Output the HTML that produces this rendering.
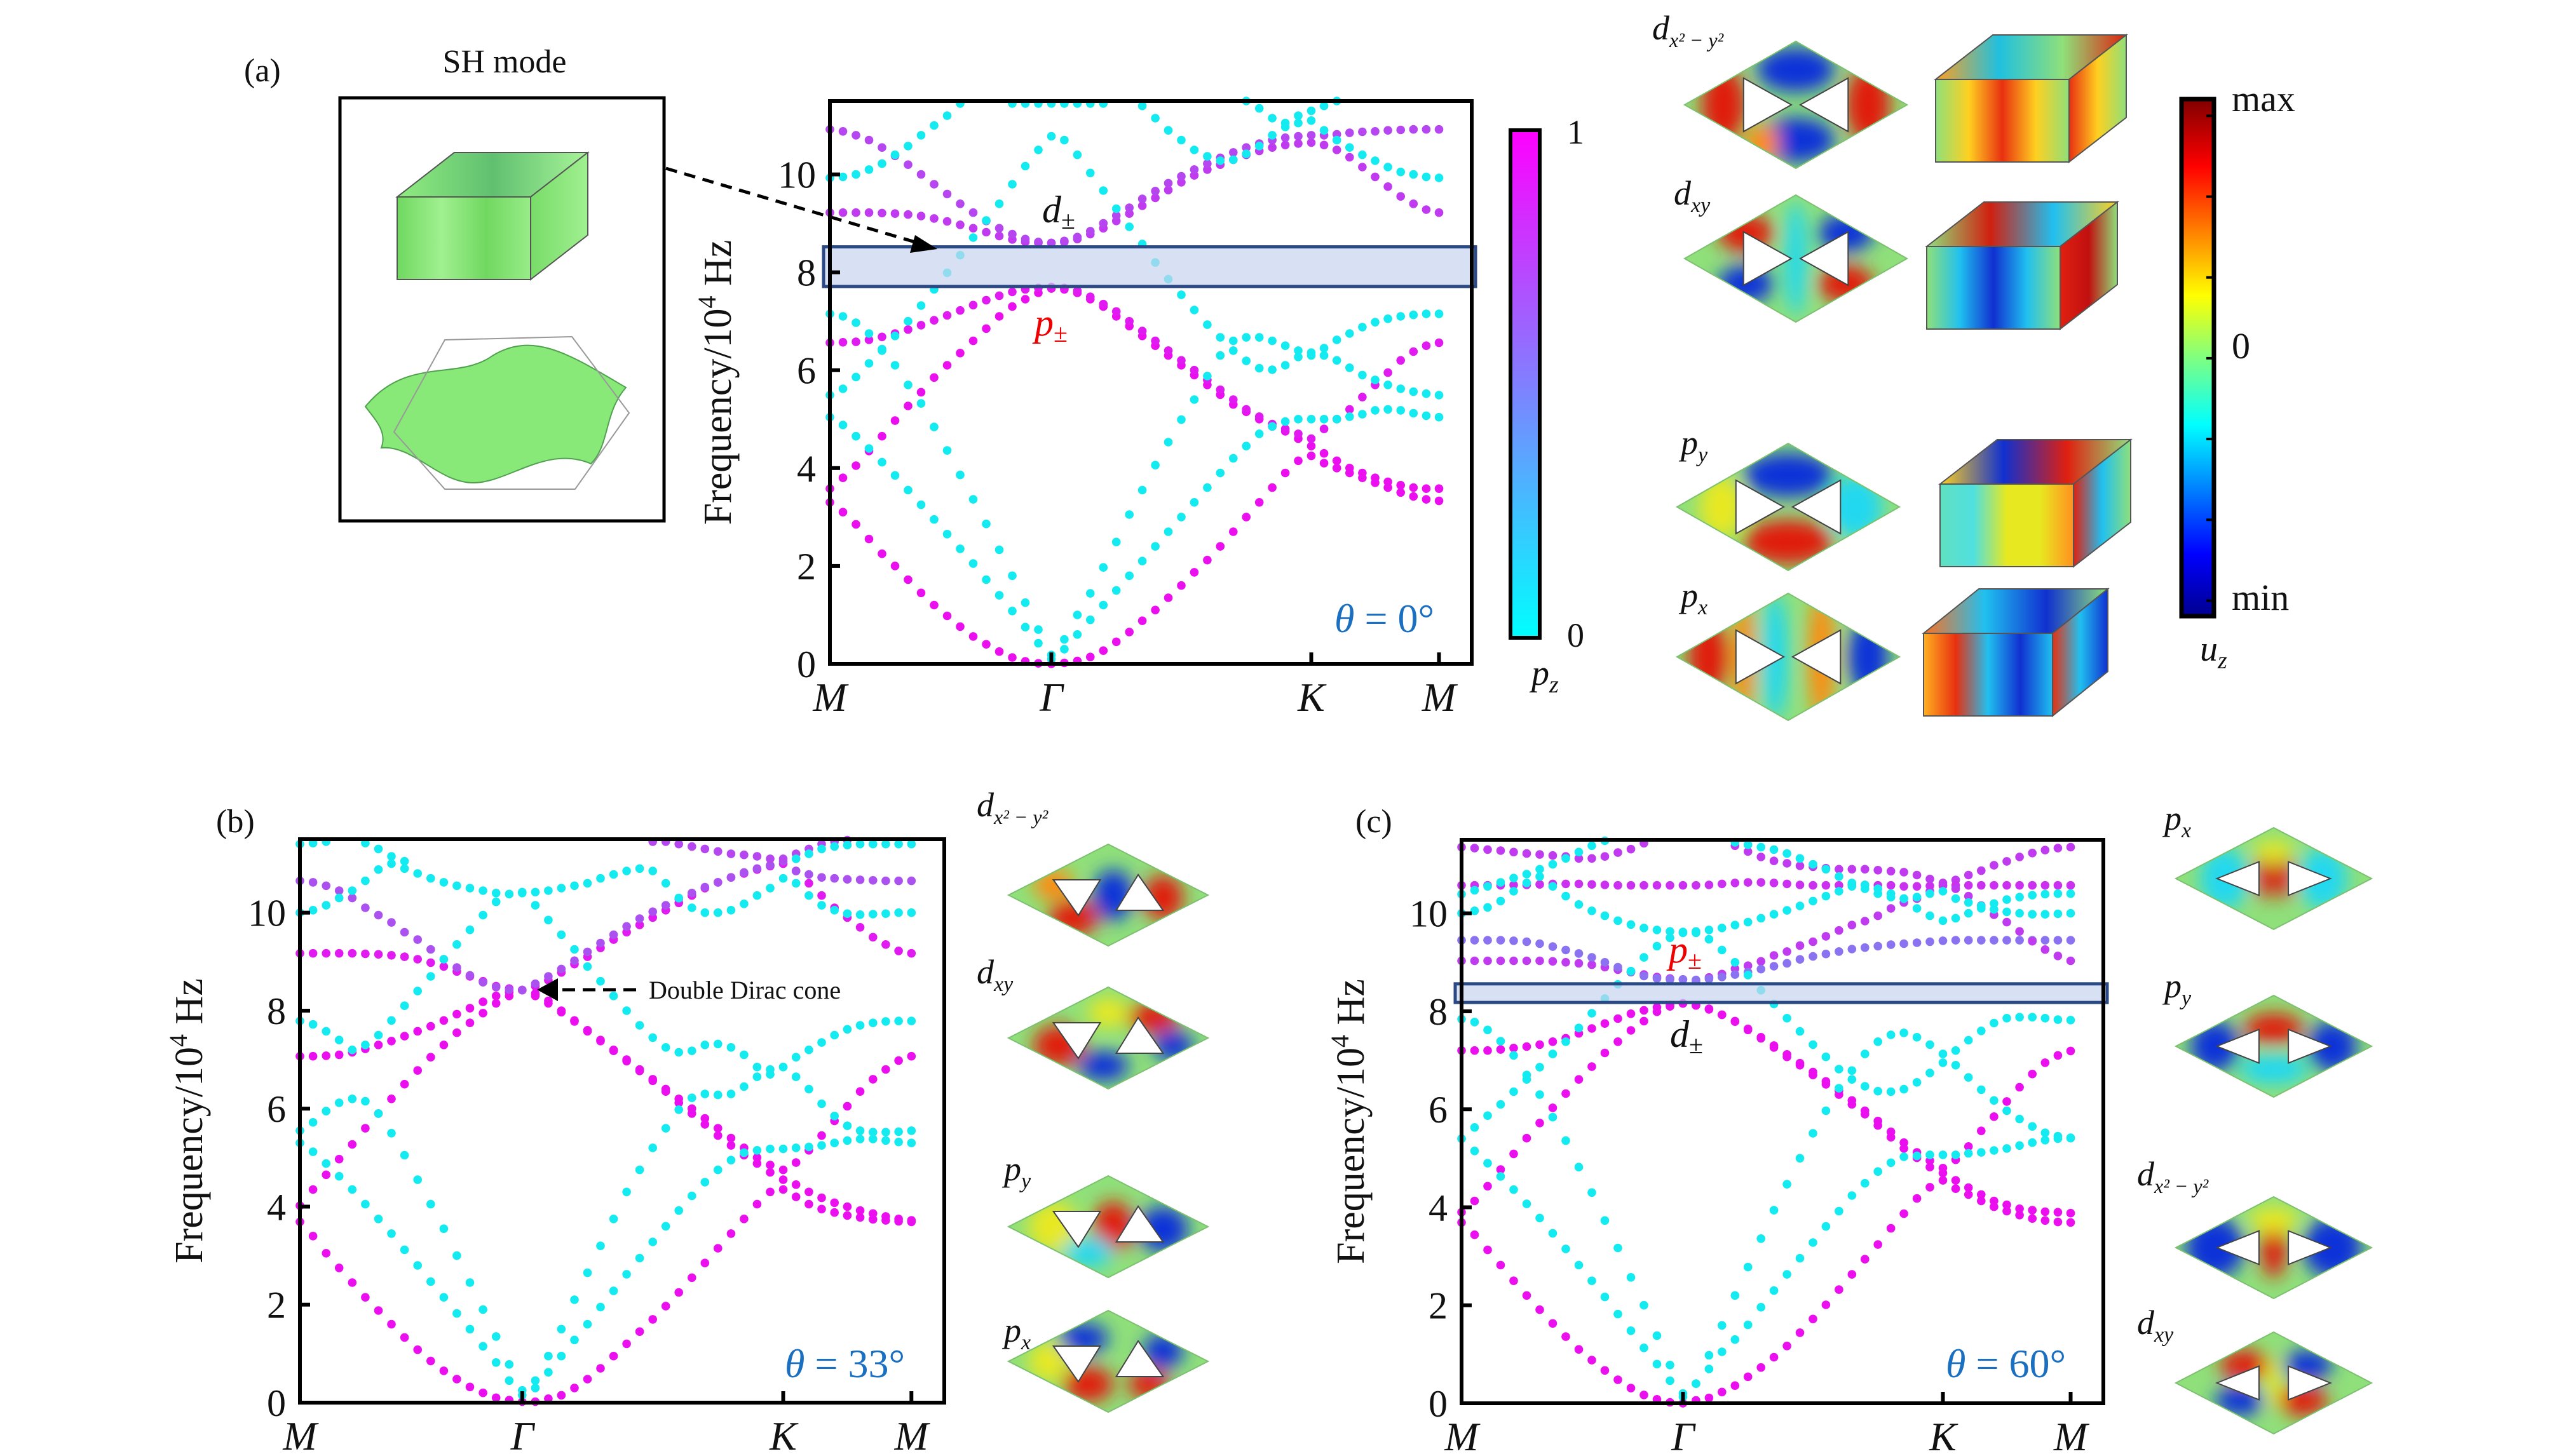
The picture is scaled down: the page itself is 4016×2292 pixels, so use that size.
<!DOCTYPE html>
<html><head><meta charset="utf-8"><style>
html,body{margin:0;padding:0;background:#fff;}
svg{display:block;}
text{font-family:"Liberation Serif",serif;fill:#111;}
.it{font-style:italic;}
</style></head><body>
<svg id="fig" width="4016" height="2292" viewBox="0 0 4016 2292" xmlns="http://www.w3.org/2000/svg">
<defs>
<linearGradient id="pzGrad" x1="0" y1="1" x2="0" y2="0"><stop offset="0" stop-color="#00ffff"/><stop offset="0.5" stop-color="#8080ff"/><stop offset="1" stop-color="#ff00ff"/></linearGradient>
<linearGradient id="jetGrad" x1="0" y1="1" x2="0" y2="0"><stop offset="0" stop-color="#00008f"/><stop offset="0.12" stop-color="#0000ff"/><stop offset="0.37" stop-color="#00ffff"/><stop offset="0.5" stop-color="#80ff80"/><stop offset="0.62" stop-color="#ffff00"/><stop offset="0.87" stop-color="#ff0000"/><stop offset="1" stop-color="#800000"/></linearGradient>
<filter id="blur" x="-50%" y="-50%" width="200%" height="200%"><feGaussianBlur stdDeviation="14"/></filter>
</defs>
<g id="layer"></g>
<text x="384" y="128" font-size="52">(a)</text>
<text x="340" y="1310" font-size="52">(b)</text>
<text x="2133" y="1310" font-size="52">(c)</text>
<text x="794" y="114" font-size="52" text-anchor="middle">SH mode</text>
<text x="2466" y="226" font-size="54">1</text>
<text x="2466" y="1018" font-size="54">0</text>
<text x="2410" y="1078" font-size="56" class="it">p<tspan font-size="38" dy="12">z</tspan></text>
<text x="3512" y="175" font-size="58">max</text>
<text x="3512" y="564" font-size="58">0</text>
<text x="3512" y="960" font-size="58">min</text>
<text x="3462" y="1040" font-size="56" class="it">u<tspan font-size="38" dy="12">z</tspan></text>
<text x="1021" y="1572" font-size="40">Double Dirac cone</text>
<text x="1640" y="350" font-size="60" class="it">d<tspan font-size="40" dy="10" font-style="normal">±</tspan></text>
<text x="1628" y="528" font-size="60" class="it" style="fill:#e00">p<tspan font-size="40" dy="10" font-style="normal" style="fill:#e00">±</tspan></text>
<text x="2626" y="1515" font-size="60" class="it" style="fill:#e00">p<tspan font-size="40" dy="10" font-style="normal" style="fill:#e00">±</tspan></text>
<text x="2628" y="1648" font-size="60" class="it">d<tspan font-size="40" dy="10" font-style="normal">±</tspan></text>
<text x="2100" y="995" font-size="64" class="it" style="fill:#1a6fc0">θ<tspan font-style="normal" style="fill:#1a6fc0"> = 0°</tspan></text>
<text x="1235" y="2168" font-size="64" class="it" style="fill:#1a6fc0">θ<tspan font-style="normal" style="fill:#1a6fc0"> = 33°</tspan></text>
<text x="3062" y="2168" font-size="64" class="it" style="fill:#1a6fc0">θ<tspan font-style="normal" style="fill:#1a6fc0"> = 60°</tspan></text>
<text x="2600" y="62" font-size="54" class="it">d<tspan font-size="32" dy="12">x² − y²</tspan></text>
<text x="2634" y="322" font-size="54" class="it">d<tspan font-size="34" dy="12">xy</tspan></text>
<text x="2645" y="715" font-size="54" class="it">p<tspan font-size="34" dy="12">y</tspan></text>
<text x="2645" y="955" font-size="54" class="it">p<tspan font-size="34" dy="12">x</tspan></text>
<text x="1537" y="1285" font-size="54" class="it">d<tspan font-size="32" dy="12">x² − y²</tspan></text>
<text x="1537" y="1548" font-size="54" class="it">d<tspan font-size="34" dy="12">xy</tspan></text>
<text x="1580" y="1858" font-size="54" class="it">p<tspan font-size="34" dy="12">y</tspan></text>
<text x="1580" y="2112" font-size="54" class="it">p<tspan font-size="34" dy="12">x</tspan></text>
<text x="3406" y="1306" font-size="54" class="it">p<tspan font-size="34" dy="12">x</tspan></text>
<text x="3406" y="1570" font-size="54" class="it">p<tspan font-size="34" dy="12">y</tspan></text>
<text x="3363" y="1866" font-size="54" class="it">d<tspan font-size="32" dy="12">x² − y²</tspan></text>
<text x="3363" y="2100" font-size="54" class="it">d<tspan font-size="34" dy="12">xy</tspan></text>
</svg>
<script>
const kLabels = ['M', 'Γ', 'K', 'M'];
const yTicks = [0, 2, 4, 6, 8, 10];
const yMax = 11.5;

const a_m1 = [].concat([3.3,3.1,2.85,2.55,2.25,2.0,1.72,1.45,1.2,0.98,0.76,0.56,0.4,0.25,0.13,0.05,0.01,0.0],[0.02,0.06,0.14,0.27,0.45,0.65,0.88,1.1,1.35,1.6,1.87,2.12,2.4,2.7,3.0,3.3,3.6,3.9,4.15,4.25],[4.1,4.0,3.9,3.8,3.7,3.6,3.5,3.42,3.36,3.33]);
const a_m2 = [].concat([3.58,3.8,4.05,4.35,4.65,4.97,5.27,5.55,5.85,6.1,6.35,6.6,6.85,7.1,7.3,7.45,7.58,7.67],[7.65,7.58,7.45,7.3,7.1,6.9,6.7,6.5,6.3,6.1,5.9,5.7,5.5,5.3,5.15,5.0,4.85,4.75,4.6,4.45],[4.3,4.15,4.0,3.9,3.8,3.72,3.65,3.6,3.58,3.58]);
const a_m3 = [].concat([6.56,6.57,6.58,6.62,6.68,6.75,6.83,6.92,7.02,7.12,7.22,7.33,7.43,7.52,7.6,7.65,7.68,7.7],[7.68,7.62,7.5,7.35,7.2,7.0,6.8,6.6,6.4,6.2,6.0,5.8,5.6,5.4,5.2,5.05,4.9,4.8,4.7,4.6],[4.8,5.0,5.2,5.45,5.7,5.95,6.2,6.38,6.5,6.56]);
const a_m4 = [].concat([9.22,9.22,9.22,9.22,9.21,9.2,9.18,9.15,9.1,9.04,8.97,8.9,8.82,8.74,8.67,8.62,8.6,8.6],[8.62,8.68,8.78,8.9,9.05,9.2,9.36,9.52,9.68,9.84,9.98,10.1,10.2,10.3,10.4,10.48,10.55,10.6,10.63,10.65],[10.6,10.5,10.35,10.15,9.95,9.75,9.55,9.4,9.28,9.22]);
const a_m5 = [].concat([10.92,10.88,10.8,10.7,10.55,10.38,10.2,10.0,9.8,9.6,9.4,9.22,9.05,8.9,8.78,8.68,8.62,8.6],[8.64,8.72,8.84,9.0,9.16,9.32,9.5,9.66,9.82,9.96,10.1,10.22,10.34,10.45,10.55,10.63,10.7,10.75,10.78,10.8],[10.8,10.82,10.85,10.87,10.88,10.9,10.91,10.92,10.92,10.92]);
const a_c1 = [].concat([5.04,4.88,4.65,4.4,4.12,3.85,3.55,3.25,2.95,2.65,2.35,2.05,1.72,1.4,1.08,0.75,0.42,0.1],[0.3,0.6,0.9,1.2,1.5,1.8,2.1,2.4,2.7,3.0,3.3,3.6,3.9,4.2,4.45,4.7,4.85,4.95,5.0,5.0],[5.0,5.0,5.05,5.1,5.18,5.2,5.18,5.12,5.07,5.04]);
const a_c2 = [].concat([5.49,5.62,5.86,6.14,6.4,6.7,7.0,7.32,7.65,7.99,8.35,8.71,9.06,9.4,9.8,10.17,10.5,10.78],[10.7,10.4,10.03,9.67,9.3,8.93,8.58,8.2,7.86,7.54,7.23,6.93,6.67,6.4,6.19,6.04,6.01,6.1,6.27,6.36],[6.3,6.2,6.05,5.9,5.8,5.7,5.62,5.56,5.52,5.49]);
const a_c3 = [].concat([7.15,7.1,6.97,6.75,6.43,6.1,5.7,5.32,4.84,4.36,3.86,3.36,2.86,2.33,1.8,1.25,0.7,0.18],[0.5,1.0,1.44,1.97,2.49,3.05,3.55,4.06,4.53,4.99,5.4,5.88,6.3,6.6,6.67,6.67,6.6,6.5,6.4,6.3],[6.45,6.62,6.75,6.88,6.98,7.05,7.1,7.13,7.15,7.15]);
const a_c4 = [].concat([9.93,9.95,10.0,10.1,10.22,10.4,10.58,10.8,11.0,11.2,11.45,null,null,null,11.45,11.45,11.45,11.45],[11.45,11.45,11.45,11.45,null,null,11.4,11.15,10.9,10.7,10.5,10.37,10.28,10.3,10.42,10.58,10.8,10.97,11.05,11.1],[10.9,10.7,10.55,10.4,10.28,10.15,10.05,10.0,9.95,9.93]);
const a_c5 = [].concat([null,null,null,null,null,null,null,null,null,null,null,null,null,null,null,null,null,null],[null,null,null,null,null,null,null,null,null,null,null,null,null,null,11.5,11.35,11.15,11.05,11.2,11.3],[11.4,11.5,null,null,null,null,null,null,null,null]);
const a_bands = [a_m1, a_m2, a_m3, a_m4, a_m5, a_c1, a_c2, a_c3, a_c4, a_c5];
const a_pz = [1, 1, 0.95, 0.8, 0.75, 0, 0, 0, 0, 0];

const b_m1 = [].concat([3.69,3.4,3.05,2.75,2.45,2.15,1.88,1.6,1.33,1.08,0.85,0.65,0.48,0.32,0.2,0.1,0.05,0.02],[0.02,0.08,0.15,0.3,0.48,0.7,0.95,1.2,1.45,1.7,1.97,2.25,2.55,2.85,3.15,3.45,3.75,4.05,4.3,4.35],[4.2,4.05,3.95,3.88,3.82,3.78,3.74,3.72,3.7,3.69]);
const b_m2 = [].concat([4.02,4.35,4.65,4.97,5.27,5.6,5.9,6.2,6.5,6.78,7.05,7.3,7.55,7.75,7.95,8.15,8.3,8.42],[8.3,8.15,7.97,7.78,7.58,7.38,7.18,6.97,6.77,6.57,6.35,6.12,5.9,5.68,5.45,5.25,5.05,4.88,4.7,4.55],[4.45,4.3,4.18,4.08,4.0,3.92,3.86,3.8,3.75,3.72]);
const b_m3 = [].concat([7.07,7.07,7.08,7.1,7.15,7.22,7.3,7.38,7.48,7.58,7.68,7.8,7.93,8.05,8.18,8.3,8.38,8.42],[8.35,8.2,8.0,7.8,7.6,7.4,7.2,7.0,6.8,6.6,6.4,6.2,6.0,5.8,5.6,5.4,5.2,5.0,4.85,4.75],[4.9,5.15,5.45,5.75,6.05,6.35,6.6,6.8,6.98,7.07]);
const b_m4 = [].concat([9.17,9.17,9.17,9.17,9.17,9.16,9.15,9.13,9.1,9.05,8.98,8.9,8.8,8.7,8.6,8.5,8.45,8.42],[8.5,8.62,8.78,8.95,9.1,9.28,9.45,9.6,9.75,9.9,10.05,10.2,10.35,10.5,10.62,10.72,10.8,10.88,10.95,11.0],[10.85,10.6,10.35,10.1,9.9,9.7,9.5,9.35,9.22,9.17]);
const b_m5 = [].concat([10.65,10.62,10.55,10.45,10.3,10.1,9.95,9.8,9.6,9.45,9.25,9.05,8.88,8.72,8.58,8.48,8.43,8.42],[8.55,8.7,8.85,9.02,9.2,9.38,9.55,9.72,9.88,10.02,10.15,10.28,10.4,10.52,10.62,10.72,10.82,10.9,10.97,11.05],[10.85,10.78,10.72,10.7,10.68,10.67,10.66,10.65,10.65,10.65]);
const b_m6 = [].concat([null,null,null,null,null,null,null,null,null,null,null,null,null,null,null,null,null,null],[null,null,null,null,null,null,null,null,null,11.45,11.45,11.4,11.35,11.3,11.25,11.2,11.18,11.15,11.1,11.1],[11.2,11.3,11.4,11.45,11.48,null,null,null,null,null]);
const b_c1 = [].concat([5.3,5.12,4.88,4.62,4.35,4.05,3.75,3.45,3.12,2.8,2.47,2.15,1.82,1.5,1.15,0.82,0.45,0.15],[0.3,0.62,0.95,1.28,1.6,1.95,2.28,2.62,2.95,3.28,3.6,3.92,4.22,4.5,4.75,4.95,5.1,5.15,5.18,5.18],[5.2,5.22,5.25,5.3,5.35,5.38,5.38,5.35,5.32,5.3]);
const b_c2 = [].concat([5.55,5.72,5.95,6.12,6.2,6.15,5.9,5.5,5.05,4.55,4.05,3.55,3.0,2.45,1.9,1.35,0.78,0.25],[0.45,0.95,1.5,2.1,2.65,3.2,3.75,4.3,4.75,5.2,5.6,5.98,6.22,6.3,6.28,6.3,6.45,6.65,6.8,6.85],[6.65,6.4,6.1,5.85,5.65,5.55,5.52,5.52,5.53,5.55]);
const b_c3 = [].concat([7.79,7.72,7.58,7.4,7.2,7.3,7.5,7.8,8.1,8.4,8.7,9.05,9.35,9.65,9.95,10.22,10.38,10.42],[10.15,9.85,9.55,9.25,8.9,8.6,8.3,8.0,7.7,7.45,7.25,7.15,7.18,7.3,7.32,7.25,7.1,6.85,6.7,6.85],[7.05,7.2,7.35,7.5,7.62,7.7,7.75,7.78,7.79,7.79]);
const b_c4 = [].concat([10.0,10.05,10.15,10.3,10.45,10.65,10.88,11.0,10.9,10.8,10.7,10.62,10.55,10.5,10.45,10.4,10.38,10.4],[10.42,10.45,10.5,10.55,10.6,10.7,10.78,10.85,10.9,10.85,10.6,10.3,10.1,10.0,10.0,10.05,10.18,10.35,10.5,10.7],[10.6,10.35,10.15,10.05,9.98,9.96,9.97,9.98,10.0,10.0]);
const b_c5 = [].concat([11.4,11.42,11.45,null,null,11.42,11.3,11.15,11.05,null,null,null,null,null,null,null,null,null],[null,null,null,null,null,null,null,null,null,null,null,null,null,null,null,null,null,null,null,null],[11.1,11.2,11.3,11.35,11.38,11.4,11.4,11.4,11.4,11.4]);
const b_bands = [b_m1, b_m2, b_m3, b_m4, b_m5, b_m6, b_c1, b_c2, b_c3, b_c4, b_c5];
const b_pz = [1, 1, 1, 0.95, 0.7, 0.75, 0, 0, 0, 0, 0];

const c_m1 = [].concat([3.69,3.44,3.13,2.82,2.5,2.2,1.91,1.63,1.36,1.1,0.88,0.67,0.48,0.31,0.17,0.08,0.02,0.0],[0.06,0.11,0.23,0.36,0.54,0.73,0.94,1.17,1.44,1.72,2.01,2.32,2.63,2.94,3.24,3.57,3.87,4.18,4.41,4.55],[4.38,4.26,4.13,4.01,3.92,3.84,3.77,3.73,3.7,3.69]);
const c_m2 = [].concat([3.9,4.13,4.43,4.77,5.09,5.41,5.72,6.03,6.32,6.61,6.87,7.15,7.38,7.61,7.8,7.99,8.1,8.16],[8.12,8.05,7.93,7.79,7.62,7.45,7.26,7.07,6.9,6.7,6.51,6.3,6.1,5.9,5.67,5.43,5.2,5.01,4.82,4.7],[4.55,4.4,4.26,4.13,4.05,3.97,3.94,3.91,3.9,3.88]);
const c_m3 = [].concat([7.2,7.2,7.2,7.22,7.25,7.28,7.32,7.38,7.45,7.55,7.65,7.75,7.85,7.95,8.02,8.08,8.13,8.16],[8.12,8.04,7.93,7.8,7.64,7.47,7.3,7.12,6.94,6.76,6.57,6.38,6.18,5.97,5.76,5.54,5.32,5.12,4.95,4.8],[4.97,5.24,5.56,5.85,6.16,6.45,6.72,6.95,7.1,7.19]);
const c_m4 = [].concat([9.03,9.03,9.03,9.03,9.03,9.03,9.03,9.02,9.0,8.98,8.95,8.9,8.85,8.8,8.75,8.7,8.67,8.65],[8.62,8.69,8.76,8.87,8.93,9.02,9.14,9.22,9.34,9.42,9.53,9.65,9.76,9.84,9.95,10.1,10.22,10.3,10.45,10.56],[10.68,10.78,10.87,10.98,11.06,11.15,11.23,11.29,11.33,11.35]);
const c_m5 = [].concat([9.45,9.45,9.45,9.45,9.44,9.42,9.38,9.32,9.25,9.18,9.1,9.0,8.9,8.8,8.72,8.67,8.65,8.65],[8.64,8.66,8.7,8.75,8.8,8.86,8.92,8.98,9.06,9.12,9.17,9.22,9.27,9.3,9.33,9.36,9.38,9.4,9.42,9.44],[9.45,9.45,9.45,9.45,9.45,9.45,9.45,9.45,9.45,9.45]);
const c_m6 = [].concat([10.57,10.57,10.57,10.57,10.58,10.58,10.59,10.6,10.6,10.6,10.59,10.58,10.57,10.57,10.57,10.57,10.57,10.57],[10.57,10.58,10.6,10.62,10.63,10.63,10.62,10.6,10.58,10.57,10.57,10.57,10.58,10.58,10.57,10.57,10.55,10.55,10.56,10.57],[10.57,10.57,10.57,10.57,10.57,10.57,10.57,10.57,10.57,10.57]);
const c_m7 = [].concat([11.35,11.33,11.3,11.28,11.25,11.22,11.2,11.18,11.16,11.12,11.12,11.16,11.24,11.31,11.43,null,null,null],[null,null,null,11.38,11.26,11.15,11.07,11.02,10.97,10.95,10.92,10.9,10.9,10.9,10.88,10.86,10.84,10.78,10.7,10.62],[10.5,10.35,10.16,9.97,9.82,9.63,9.43,9.26,9.13,9.03]);
const c_c1 = [].concat([5.4,5.15,4.9,4.63,4.36,4.07,3.78,3.47,3.15,2.82,2.5,2.17,1.82,1.48,1.13,0.8,0.46,0.13],[0.4,0.7,1.05,1.3,1.6,1.96,2.3,2.63,2.96,3.28,3.61,3.92,4.24,4.49,4.73,4.91,5.03,5.05,5.07,5.07],[5.07,5.1,5.12,5.16,5.2,5.26,5.32,5.37,5.4,5.41]);
const c_c2 = [].concat([7.84,7.78,7.62,7.39,7.1,6.7,6.3,5.84,5.36,4.82,4.3,3.73,3.17,2.57,2.0,1.38,0.78,0.2],[0.4,0.98,1.59,2.2,2.78,3.36,3.94,4.47,5.0,5.51,5.97,6.43,6.79,7.13,7.38,7.52,7.56,7.47,7.32,7.13],[6.9,6.65,6.4,6.18,5.97,5.8,5.65,5.52,5.45,5.42]);
const c_c3 = [].concat([5.4,5.63,5.87,6.1,6.36,6.61,6.86,7.13,7.38,7.66,7.96,8.26,8.55,8.82,9.1,9.33,9.5,9.6],[9.6,9.47,9.25,9.0,8.74,8.43,8.15,7.86,7.59,7.32,7.07,6.82,6.61,6.47,6.37,6.36,6.41,6.55,6.74,6.95],[7.2,7.41,7.6,7.76,7.86,7.88,7.88,7.86,7.83,7.82]);
const c_c4 = [].concat([10.0,10.05,10.12,10.25,10.45,10.62,10.75,10.55,10.35,10.18,10.05,9.95,9.85,9.77,9.7,9.66,9.63,9.62],[9.63,9.66,9.7,9.76,9.82,9.9,9.98,10.06,10.15,10.25,10.35,10.45,10.55,10.58,10.5,10.4,10.3,10.1,9.95,9.85],[9.9,10.0,10.1,10.2,10.28,10.33,10.37,10.39,10.4,10.4]);
const c_c5 = [].concat([10.39,10.47,10.55,10.63,10.72,10.8,10.9,11.0,11.12,11.25,11.38,11.48,null,null,null,null,null,null],[null,null,null,11.45,11.4,11.35,11.3,11.22,11.12,11.0,10.9,10.75,10.62,10.5,10.4,10.33,10.3,10.33,10.4,10.45],[10.3,10.22,10.15,10.08,10.03,10.0,9.98,9.98,9.99,10.0]);
const c_bands = [c_m1, c_m2, c_m3, c_m4, c_m5, c_m6, c_m7, c_c1, c_c2, c_c3, c_c4, c_c5];
const c_pz = [1, 1, 1, 0.8, 0.55, 0.85, 0.8, 0, 0, 0, 0, 0];

const NS = 'http://www.w3.org/2000/svg';
const layer = document.getElementById('layer');
function mk(tag, attrs, parent) {
  const e = document.createElementNS(NS, tag);
  for (const k in attrs) e.setAttribute(k, attrs[k]);
  (parent || layer).appendChild(e);
  return e;
}
function pzColor(p) {
  const r = Math.round(20 + 215 * p), g = Math.round(235 - 220 * p), b = 240;
  return 'rgb(' + r + ',' + g + ',' + b + ')';
}
function kFrac(i) {
  if (i <= 17) return i / 17 * 0.345;
  if (i <= 37) return 0.345 + (i - 17) / 20 * 0.405;
  return 0.75 + (i - 37) / 10 * 0.199;
}

function drawPanel(id, box, bands, pzs, titleX, rad, shade) {
  const g = mk('g', {});
  
  
  const W = box.x1 - box.x0, H = box.y1 - box.y0;
  const xS = i => box.x0 + kFrac(i) * W;
  const yS = v => box.y1 - v / yMax * H;
  bands.forEach((band, bi) => {
    const bg = mk('g', {fill: pzColor(pzs[bi])}, g);
    
    
    band.forEach((v, i) => {
      if (v === null || v === undefined || v > yMax + 0.05) return;
      const c = mk('circle', {cx: xS(i).toFixed(1), cy: yS(v).toFixed(1), r: rad}, bg);
      
      
    });
  });
  if (shade) {
    const r = mk('rect', {x: box.x0 - 10, y: yS(shade[1]), width: W + 16, height: yS(shade[0]) - yS(shade[1]), fill: '#c8d4ee', 'fill-opacity': 0.7, stroke: '#2b4a85', 'stroke-width': 5}, g);
    
    
  }
  const fr = mk('rect', {x: box.x0, y: box.y0, width: W, height: H, fill: 'none', stroke: '#000', 'stroke-width': 6}, g);
  
  
  yTicks.forEach(t => {
    const y = yS(t);
    mk('line', {x1: box.x0, x2: box.x0 + 16, y1: y, y2: y, stroke: '#000', 'stroke-width': 6}, g);
    const tx = mk('text', {x: box.x0 - 22, y: y + 21, 'font-size': 60, 'text-anchor': 'end'}, g);
    tx.textContent = t;
    
    
  });
  const kIdx = [0, 17, 37, 47];
  kIdx.forEach((ki, n) => {
    const x = xS(ki);
    if (n > 0) mk('line', {x1: x, x2: x, y1: box.y1, y2: box.y1 - 18, stroke: '#000', 'stroke-width': 6}, g);
    const tx = mk('text', {x: x, y: box.y1 + 74, 'font-size': 64, 'text-anchor': 'middle', 'font-style': 'italic'}, g);
    tx.textContent = kLabels[n];
    
    
  });
  const cy = (box.y0 + box.y1) / 2;
  const yt = mk('text', {x: titleX, y: cy, 'font-size': 62, 'text-anchor': 'middle', transform: 'rotate(-90 ' + titleX + ' ' + cy + ')'}, g);
  yt.innerHTML = 'Frequency/10<tspan font-size="40" dy="-24">4</tspan><tspan dy="24"> Hz</tspan>';
  
  
}

drawPanel('a', {x0: 1306, x1: 2316, y0: 159, y1: 1045}, a_bands, a_pz, 1150, 6.8, [7.71, 8.52]);
drawPanel('b', {x0: 472, x1: 1486, y0: 1321, y1: 2208}, b_bands, b_pz, 318, 6.8, null);
drawPanel('c', {x0: 2300, x1: 3310, y0: 1322, y1: 2209}, c_bands, c_pz, 2146, 6.8, [8.18, 8.56]);

(function () {
  const cb = mk('rect', {x: 2377, y: 205, width: 46, height: 799, fill: 'url(#pzGrad)', stroke: '#000', 'stroke-width': 6});
  
  
  const jb = mk('rect', {x: 3433, y: 156, width: 51, height: 814, fill: 'url(#jetGrad)', stroke: '#000', 'stroke-width': 7});
  
  
  for (let k = 0; k <= 6; k++) {
    const y = 156 + 814 * (k + 0.05) / 6.4 + 20;
    mk('line', {x1: 3472, x2: 3484, y1: y, y2: y, stroke: '#000', 'stroke-width': 4});
  }
})();

(function () {
  const l1 = mk('line', {x1: 1048, y1: 265, x2: 1450, y2: 384, stroke: '#000', 'stroke-width': 5, 'stroke-dasharray': '18 12'});
  
  
  mk('polygon', {points: '1475,392 1440,370 1432,398', fill: '#000'});
  const l2 = mk('line', {x1: 1001, y1: 1558, x2: 870, y2: 1558, stroke: '#000', 'stroke-width': 5, 'stroke-dasharray': '20 12'});
  
  
  mk('polygon', {points: '845,1558 878,1540 878,1576', fill: '#000'});
})();

let clipN = 0;
const jet = {r: '#e01a10', o: '#ff8a10', y: '#e8e820', c: '#20d8f0', b: '#1030d8', g: '#8fe07a'};
function drawMode(name, cx, cy, hw, hh, blobs, holes) {
  const id = 'clip' + (clipN++);
  const defs = mk('clipPath', {id: id});
  const pts = [(cx - hw) + ',' + cy, cx + ',' + (cy - hh), (cx + hw) + ',' + cy, cx + ',' + (cy + hh)].join(' ');
  mk('polygon', {points: pts}, defs);
  const g = mk('g', {'clip-path': 'url(#' + id + ')'});
  
  
  mk('polygon', {points: pts, fill: jet.g}, g);
  const bl = mk('g', {filter: 'url(#blur)'}, g);
  blobs.forEach(b => mk('ellipse', {cx: cx + b[0] * hw, cy: cy + b[1] * hh, rx: b[2] * hw, ry: b[3] * hh, fill: jet[b[4]]}, bl));
  holes.forEach(h => {
    const p = h.map(q => (cx + q[0] * hw).toFixed(1) + ',' + (cy + q[1] * hh).toFixed(1)).join(' ');
    mk('polygon', {points: p, fill: '#fff', stroke: '#444', 'stroke-width': 2}, g);
  });
  mk('polygon', {points: pts, fill: 'none', stroke: '#7cc070', 'stroke-width': 2});
}
const holesA = [[[-0.47, -0.42], [-0.47, 0.42], [-0.04, 0]], [[0.47, -0.42], [0.47, 0.42], [0.04, 0]]];
const holesB = [[[-0.55, -0.3], [-0.08, -0.3], [-0.3, 0.4]], [[0.08, 0.3], [0.55, 0.3], [0.3, -0.4]]];
const holesC = [[[-0.58, 0], [-0.15, -0.33], [-0.15, 0.33]], [[0.58, 0], [0.15, -0.33], [0.15, 0.33]]];
drawMode('mode-a-dx2y2', 2826, 165, 175, 100, [[-0.65, 0, 0.2, 0.6, 'r'], [0.65, 0, 0.2, 0.6, 'r'], [0, -0.55, 0.35, 0.35, 'b'], [0, 0.55, 0.35, 0.35, 'b'], [-0.3, 0.6, 0.15, 0.3, 'o']], holesA);
drawMode('mode-a-dxy', 2826, 407, 175, 100, [[-0.45, -0.4, 0.25, 0.3, 'r'], [0.45, -0.4, 0.25, 0.3, 'b'], [-0.45, 0.4, 0.25, 0.3, 'b'], [0.45, 0.4, 0.25, 0.3, 'r'], [0, 0, 0.1, 0.9, 'c']], holesA);
drawMode('mode-a-py', 2814, 798, 175, 100, [[0, -0.5, 0.4, 0.35, 'b'], [0, 0.55, 0.4, 0.35, 'r'], [0.6, 0, 0.25, 0.5, 'c'], [-0.6, 0, 0.2, 0.5, 'y']], holesA);
drawMode('mode-a-px', 2814, 1034, 175, 100, [[-0.72, 0, 0.18, 0.6, 'r'], [-0.4, 0, 0.1, 0.9, 'o'], [-0.12, 0, 0.12, 1, 'c'], [0.3, 0, 0.12, 1, 'o'], [0.72, 0, 0.18, 0.6, 'b']], holesA);
drawMode('mode-b-dx2y2', 1744, 1409, 157, 80, [[-0.35, 0.45, 0.25, 0.35, 'r'], [0.05, 0, 0.2, 0.5, 'b'], [0.55, 0.05, 0.2, 0.45, 'r'], [-0.55, -0.2, 0.2, 0.3, 'o']], holesB);
drawMode('mode-b-dxy', 1744, 1634, 157, 80, [[-0.5, 0.15, 0.25, 0.4, 'r'], [-0.05, 0.55, 0.25, 0.3, 'b'], [0.45, -0.4, 0.25, 0.3, 'r'], [0.65, 0.15, 0.2, 0.3, 'b'], [0, -0.5, 0.2, 0.3, 'y']], holesB);
drawMode('mode-b-py', 1744, 1931, 157, 80, [[-0.55, 0, 0.25, 0.5, 'y'], [0.05, 0, 0.2, 0.5, 'r'], [0.55, 0.05, 0.25, 0.45, 'b'], [-0.2, 0.5, 0.25, 0.3, 'c']], holesB);
drawMode('mode-b-px', 1744, 2143, 157, 80, [[-0.25, -0.45, 0.25, 0.3, 'b'], [-0.2, 0.45, 0.25, 0.35, 'r'], [0.4, 0.45, 0.2, 0.3, 'r'], [0.55, -0.2, 0.2, 0.35, 'b'], [-0.6, 0, 0.2, 0.4, 'y']], holesB);
drawMode('mode-c-px', 3578, 1383, 154, 80, [[-0.1, 0, 0.1, 0.4, 'r'], [0.12, 0, 0.1, 0.4, 'r'], [-0.5, 0, 0.25, 0.6, 'c'], [0.5, 0, 0.25, 0.6, 'c'], [0, -0.55, 0.2, 0.2, 'y']], holesC);
drawMode('mode-c-py', 3578, 1647, 154, 80, [[0, -0.35, 0.3, 0.3, 'r'], [0, 0.45, 0.35, 0.3, 'c'], [-0.6, 0, 0.25, 0.5, 'b'], [0.6, 0, 0.25, 0.5, 'b']], holesC);
drawMode('mode-c-dx2y2', 3578, 1964, 154, 80, [[0, 0, 0.13, 0.6, 'r'], [-0.6, 0, 0.3, 0.6, 'b'], [0.6, 0, 0.3, 0.6, 'b'], [0, -0.55, 0.25, 0.25, 'y']], holesC);
drawMode('mode-c-dxy', 3578, 2177, 154, 80, [[-0.3, -0.35, 0.25, 0.3, 'r'], [0.3, 0.35, 0.25, 0.3, 'r'], [0.35, -0.35, 0.25, 0.3, 'b'], [-0.35, 0.35, 0.25, 0.3, 'b'], [0, 0, 0.08, 0.5, 'y']], holesC);

let gradN = 0;
function hGrad(colors) {
  const id = 'hg' + (gradN++);
  const lg = mk('linearGradient', {id: id, x1: 0, y1: 0, x2: 1, y2: 0});
  colors.forEach((c, i) => mk('stop', {offset: i / (colors.length - 1), 'stop-color': c}, lg));
  return 'url(#' + id + ')';
}
function drawBlock(name, cx, cy, w, h, front, top, side) {
  const g = mk('g', {});
  
  
  const L = cx - w / 2, R = cx + w / 2 - 0.3 * w, T = cy - h / 2 + 0.35 * h, B = cy + h / 2, dx = 0.3 * w, dy = -0.35 * h;
  mk('polygon', {points: [L + ',' + T, (L + dx) + ',' + (T + dy), (R + dx) + ',' + (T + dy), R + ',' + T].join(' '), fill: hGrad(top), stroke: '#555', 'stroke-width': 2}, g);
  mk('polygon', {points: [R + ',' + T, (R + dx) + ',' + (T + dy), (R + dx) + ',' + (B + dy), R + ',' + B].join(' '), fill: hGrad(side), stroke: '#555', 'stroke-width': 2}, g);
  mk('rect', {x: L, y: T, width: R - L, height: B - T, fill: hGrad(front), stroke: '#555', 'stroke-width': 2}, g);
}
drawBlock('block-a-dx2y2', 3196, 155, 300, 200, ['#8fe07a', '#ffd020', '#e83010', '#ffd020', '#8fe07a'], ['#ffa020', '#20c0e0', '#8fe07a', '#e02010'], ['#e83010', '#ffd020', '#8fe07a']);
drawBlock('block-a-dxy', 3182, 418, 300, 200, ['#8fe07a', '#20c0f0', '#1030d0', '#20c0f0', '#8fe07a'], ['#8fe07a', '#d02010', '#20c0f0', '#ffd020'], ['#e02010', '#c01010', '#8fe07a']);
drawBlock('block-a-py', 3203, 792, 300, 200, ['#60e0c0', '#50e0e0', '#e8e820', '#e8e820', '#ff9020'], ['#ffd020', '#1030d0', '#e02010', '#8fe07a'], ['#e02010', '#20c0f0', '#8fe07a']);
drawBlock('block-a-px', 3172, 1027, 290, 200, ['#ffb020', '#e83010', '#20c0f0', '#1030d0', '#20c0f0'], ['#ff7020', '#20c0f0', '#1030d0', '#8fe07a'], ['#e83010', '#20c0f0', '#1030d0']);

(function () {
  const r = mk('rect', {x: 535, y: 154, width: 510, height: 666, fill: '#fff', stroke: '#000', 'stroke-width': 5});
  
  
  drawBlock('sh-mode-block', 775, 340, 300, 200, ['#70d860', '#a0f090', '#70d860', '#98ec88'], ['#90ec80', '#60c070', '#a8f498'], ['#78dc68', '#a0f090']);
  const s = mk('path', {d: 'M575,640 C640,560 720,600 775,560 C840,520 900,560 985,610 C950,650 960,700 930,730 C860,700 800,760 745,760 C690,760 650,700 600,705 C610,680 590,660 575,640 Z', fill: '#88e878', stroke: '#50a050', 'stroke-width': 2});
  
  
  mk('polygon', {points: '620,680 700,535 900,530 990,650 905,770 700,770', fill: 'none', stroke: '#999', 'stroke-width': 2});
})();
</script>
</body></html>
